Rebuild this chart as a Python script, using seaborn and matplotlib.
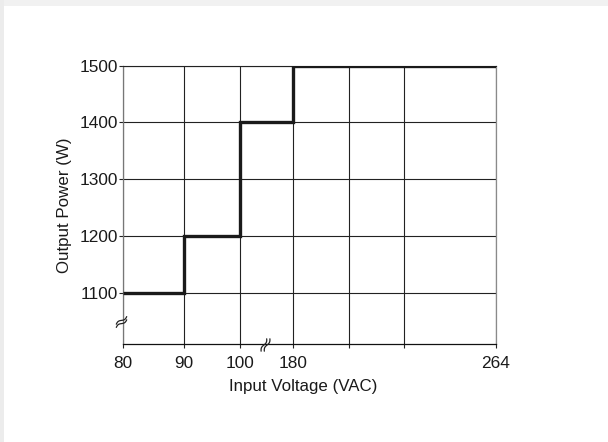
import numpy as np
import pandas as pd
import matplotlib
matplotlib.use("Agg")
import matplotlib.pyplot as plt
import seaborn as sns
from matplotlib.patches import Rectangle
from matplotlib.lines import Line2D

# ---- data ----
voltage = [80, 90, 100, 180, 264]
power = [1100, 1200, 1400, 1500, 1500]
x_ticks = [80, 90, 100, 180, 203, 226, 264]
x_tick_labels = ["80", "90", "100", "180", "", "", "264"]
y_ticks = [1100, 1200, 1300, 1400, 1500]
y_tick_labels = ["1100", "1200", "1300", "1400", "1500"]

# broken x-axis: piecewise-linear scale knots (value -> position)
scale_v = [80, 90, 100, 180, 264]
scale_pos = [0, 61, 117, 170.6, 373.3]

sns.set_theme(style="white")
plt.rcParams["font.family"] = ["Liberation Sans", "DejaVu Sans"]

W, H = 608, 442
fig = plt.figure(figsize=(W / 100, H / 100), dpi=100)
fig.patch.set_facecolor("white")
# light gray frame strips (top and left)
fig.patches.append(Rectangle((0, 1 - 6 / H), 1, 6 / H, transform=fig.transFigure,
                             facecolor="#f1f1f1", edgecolor="none", zorder=-2))
fig.patches.append(Rectangle((0, 0), 4 / W, 1, transform=fig.transFigure,
                             facecolor="#ececec", edgecolor="none", zorder=-2))

ax = fig.add_axes([122.7 / W, 1 - 344.3 / H, (496 - 122.7) / W, (344.3 - 65.7) / H])
ax.set_facecolor("white")


def fwd(x):
    return np.interp(x, scale_v, scale_pos, left=-1e3, right=1e3)


def inv(p):
    return np.interp(p, scale_pos, scale_v)


ax.set_xscale("function", functions=(fwd, inv))

df = pd.DataFrame({"Input Voltage (VAC)": voltage, "Output Power (W)": power})
sns.lineplot(data=df, x="Input Voltage (VAC)", y="Output Power (W)", ax=ax,
             drawstyle="steps-post", color="#1a1a1a", linewidth=2.4, zorder=5,
             solid_joinstyle="miter", solid_capstyle="butt")

ax.set_xlim(80, 264)
ax.set_ylim(1009, 1500)
ax.set_xticks(x_ticks)
ax.set_xticklabels(x_tick_labels)
ax.set_yticks(y_ticks)
ax.set_yticklabels(y_tick_labels)
ax.minorticks_off()

ax.grid(True, color="#222222", linewidth=0.8)
ax.set_axisbelow(True)
ax.spines["top"].set_color("#222222")
ax.spines["top"].set_linewidth(0.8)
ax.spines["right"].set_color("#8a8a8a")
ax.spines["right"].set_linewidth(0.9)
ax.spines["left"].set_color("#777777")
ax.spines["left"].set_linewidth(0.9)
ax.spines["bottom"].set_color("#111111")
ax.spines["bottom"].set_linewidth(0.9)

ax.tick_params(axis="both", which="major", direction="out", length=2.6, width=0.8,
               color="#222222", labelsize=12.4, labelcolor="#1a1a1a")
ax.tick_params(axis="x", pad=5.5)
ax.tick_params(axis="y", pad=1)
ax.xaxis.set_ticks_position("bottom")
ax.yaxis.set_ticks_position("left")

ax.set_xlabel("Input Voltage (VAC)", fontsize=12.2, color="#1a1a1a")
ax.set_ylabel("Output Power (W)", fontsize=12.2, color="#1a1a1a", labelpad=5)
ax.xaxis.label.set_verticalalignment("center")
ax.xaxis.set_label_coords((303.5 - 122.7) / (496 - 122.7), -(387 - 344.3) / (344.3 - 65.7))


def draw_break(cx, cy, half, sep):
    # cx, cy in pixels (top-left origin); half/sep are pixel vectors
    hx, hy = half
    sx, sy = sep
    L = np.hypot(hx, hy)
    px, py = -hy / L, hx / L
    t = np.linspace(-1, 1, 25)
    for k in (-1, 1):
        xs = cx + k * sx + t * hx + 1.1 * np.sin(np.pi * t) * px
        ys = cy + k * sy + t * hy + 1.1 * np.sin(np.pi * t) * py
        fig.add_artist(Line2D(xs / W, 1 - ys / H, transform=fig.transFigure,
                              color="#222222", linewidth=0.9, zorder=10))


draw_break(121.5, 322, (5.2, -3.8), (0, 1.6))
draw_break(265.5, 345, (2.8, -6.2), (1.6, 0))

fig.savefig("out.png", dpi=100, facecolor=fig.get_facecolor())
